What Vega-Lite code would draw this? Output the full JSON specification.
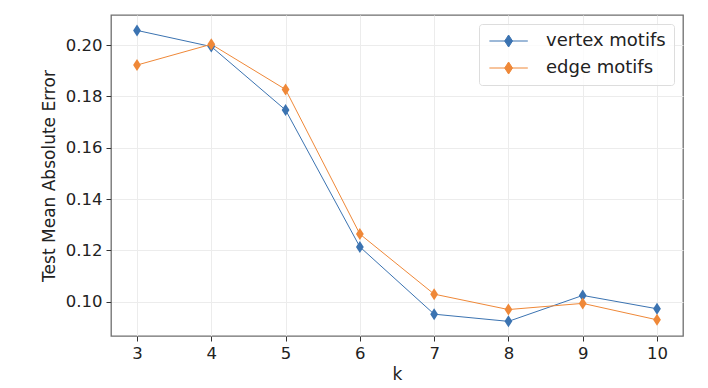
{
  "$schema": "https://vega.github.io/schema/vega-lite/v6.json",
  "width": 572,
  "height": 321,
  "autosize": {"type": "none"},
  "padding": {"left": 111, "top": 15, "right": 25, "bottom": 52},
  "background": "white",
  "config": {
    "font": "DejaVu Sans",
    "view": {"stroke": "#6e6e6e", "strokeWidth": 1.3},
    "axis": {
      "domain": false,
      "grid": true,
      "gridColor": "#ececec",
      "gridWidth": 1,
      "tickColor": "#333333",
      "tickSize": 5,
      "tickWidth": 1,
      "labelFont": "DejaVu Sans",
      "labelFontSize": 16.5,
      "labelColor": "#222222",
      "titleFont": "DejaVu Sans",
      "titleFontSize": 17,
      "titleFontWeight": "normal",
      "titleColor": "#222222",
      "labelPadding": 4
    }
  },
  "data": {
    "values": [
      {"k": 3, "mae": 0.2057, "series": "vertex motifs"},
      {"k": 4, "mae": 0.1994, "series": "vertex motifs"},
      {"k": 5, "mae": 0.1747, "series": "vertex motifs"},
      {"k": 6, "mae": 0.1214, "series": "vertex motifs"},
      {"k": 7, "mae": 0.0952, "series": "vertex motifs"},
      {"k": 8, "mae": 0.0924, "series": "vertex motifs"},
      {"k": 9, "mae": 0.1025, "series": "vertex motifs"},
      {"k": 10, "mae": 0.0973, "series": "vertex motifs"},
      {"k": 3, "mae": 0.1922, "series": "edge motifs"},
      {"k": 4, "mae": 0.2003, "series": "edge motifs"},
      {"k": 5, "mae": 0.1827, "series": "edge motifs"},
      {"k": 6, "mae": 0.1264, "series": "edge motifs"},
      {"k": 7, "mae": 0.1030, "series": "edge motifs"},
      {"k": 8, "mae": 0.0970, "series": "edge motifs"},
      {"k": 9, "mae": 0.0994, "series": "edge motifs"},
      {"k": 10, "mae": 0.0930, "series": "edge motifs"}
    ]
  },
  "encoding": {
    "x": {
      "field": "k",
      "type": "quantitative",
      "scale": {"domain": [2.65, 10.35], "nice": false, "zero": false},
      "axis": {"values": [3, 4, 5, 6, 7, 8, 9, 10], "format": "d", "title": "k", "titlePadding": 5}
    },
    "y": {
      "field": "mae",
      "type": "quantitative",
      "scale": {"domain": [0.0867, 0.2117], "nice": false, "zero": false},
      "axis": {"values": [0.10, 0.12, 0.14, 0.16, 0.18, 0.20], "format": ".2f", "title": "Test Mean Absolute Error", "titlePadding": 7}
    },
    "color": {
      "field": "series",
      "type": "nominal",
      "scale": {"domain": ["vertex motifs", "edge motifs"], "range": ["#3b73b1", "#ef8838"]},
      "legend": {
        "title": null,
        "orient": "top-right",
        "offset": 9,
        "padding": 8,
        "fillColor": "rgba(255,255,255,0.8)",
        "strokeColor": "#dddddd",
        "cornerRadius": 3,
        "labelFont": "DejaVu Sans",
        "labelFontSize": 18,
        "labelColor": "#222222",
        "labelOffset": 41,
        "rowPadding": 9,
        "symbolType": "M-1.1,0L5.3,0M2.1,-1L2.75,0L2.1,1L1.45,0Z",
        "symbolSize": 144,
        "symbolStrokeWidth": 1,
        "symbolOpacity": 1,
        "encode": {
          "symbols": {
            "update": {
              "stroke": {"scale": "color", "field": "value"},
              "fill": {"scale": "color", "field": "value"},
              "strokeWidth": {"value": 1},
              "opacity": {"value": 1}
            }
          }
        }
      }
    }
  },
  "layer": [
    {"mark": {"type": "line", "strokeWidth": 1}},
    {"mark": {"type": "point", "filled": true, "opacity": 1, "size": 144, "shape": "M0,-1L0.65,0L0,1L-0.65,0Z"}}
  ]
}
